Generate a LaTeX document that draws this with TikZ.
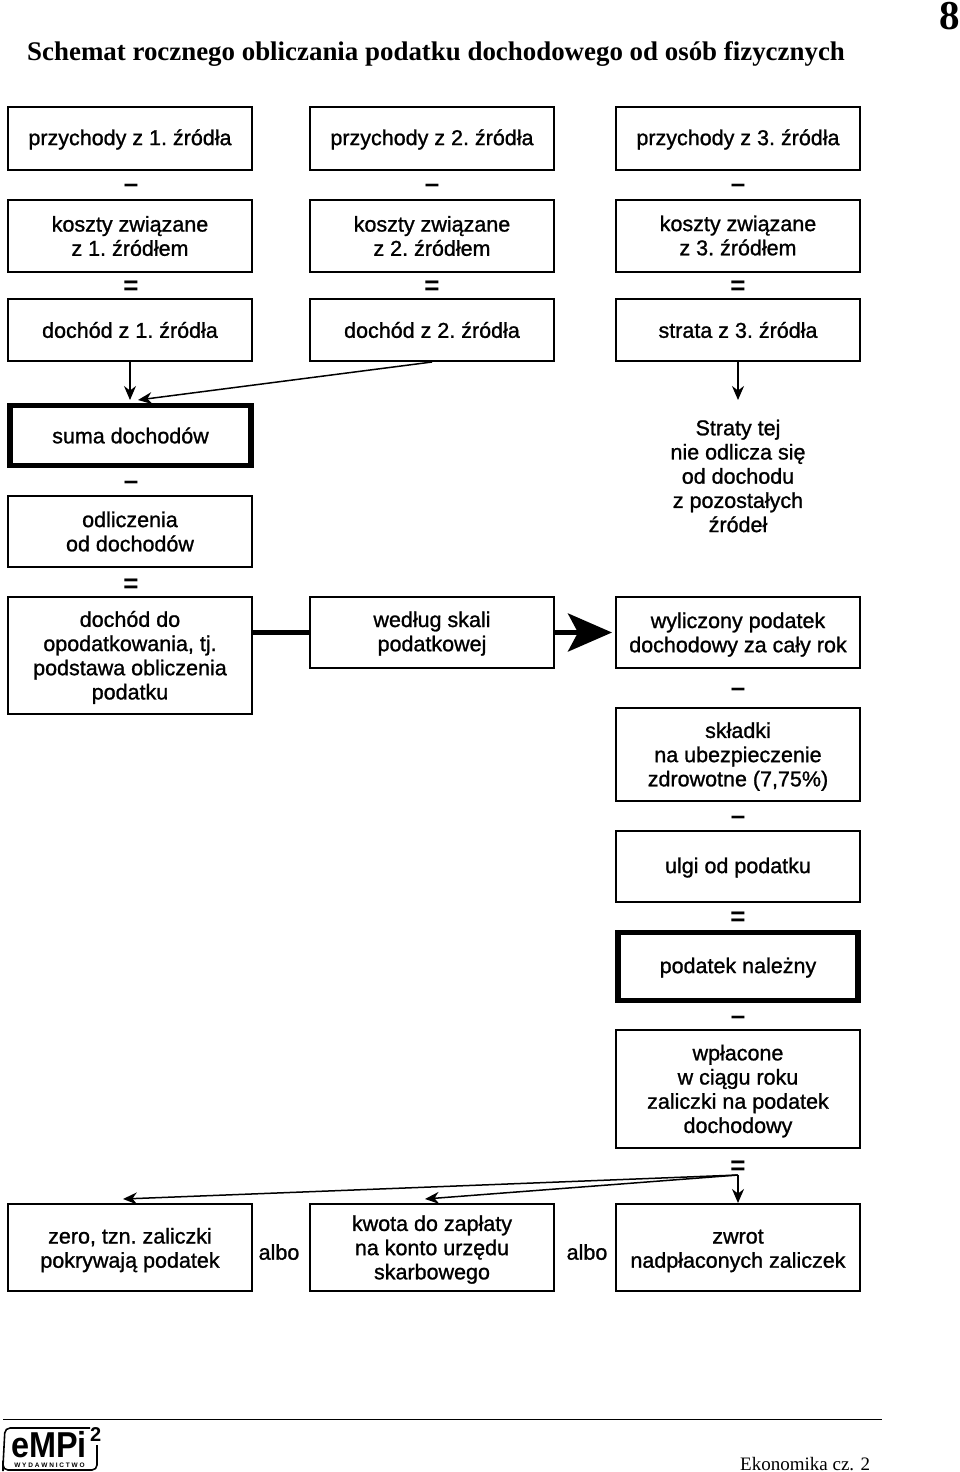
\documentclass[tikz,border=0pt]{standalone}
\usepackage{fontspec}
\setmainfont{Liberation Serif}
\newfontfamily\lab[FakeBold=1.1]{Liberation Sans}
\newfontfamily\labb{Liberation Sans Bold}
\newfontfamily\logof[FakeStretch=0.9]{Liberation Sans Bold}
\usetikzlibrary{arrows.meta}
\newcommand\lowr[1]{\rule{0pt}{\dimexpr 15.7pt+2\dimexpr #1pt\relax\relax}}
\tikzset{
 box/.style={draw=black,line width=2pt,fill=white,align=center,minimum width=244pt,inner sep=0pt,font=\lab\frenchspacing\fontsize{21.5}{24.2}\selectfont},
 heavybox/.style={box,line width=5.5pt},
 sign/.style={inner sep=0pt,font=\labb\fontsize{26}{26}\selectfont},
 dashsign/.style={sign,yshift=-3pt},
 eqsign/.style={sign,yshift=-2pt},
 plain/.style={inner sep=0pt,align=center,font=\lab\frenchspacing\fontsize{21.5}{24.2}\selectfont},
 conn/.style={draw=black,line width=1.5pt,-{Stealth[length=14pt,width=12pt]}},
}
\begin{document}
\begin{tikzpicture}[x=1pt,y=-1pt]
\useasboundingbox (0,0) rectangle (960,1472);
\fill[white] (0,0) rectangle (960,1472);
\node[anchor=base west,inner sep=0pt,font=\fontsize{26.9}{28}\selectfont\bfseries] (title) at (27,60) {Schemat rocznego obliczania podatku dochodowego od osób fizycznych};
\node[anchor=base,inner sep=0pt,font=\fontsize{41}{41}\selectfont\bfseries] (page) at (950,30) {8};
% column 1
\node[box,minimum height=63pt] (p1) at (130,138.5) {\lowr{1}przychody z 1. źródła};
\node[dashsign] (s1) at (131,185) {–};
\node[box,minimum height=72pt] (k1) at (130,236) {koszty związane\\z 1. źródłem};
\node[eqsign] (e1) at (131,286) {=};
\node[box,minimum height=62pt] (d1) at (130,330) {dochód z 1. źródła};
% column 2
\node[box,minimum height=63pt] (p2) at (432,138.5) {\lowr{1}przychody z 2. źródła};
\node[dashsign] (s2) at (432,185) {–};
\node[box,minimum height=72pt] (k2) at (432,236) {koszty związane\\z 2. źródłem};
\node[eqsign] (e2) at (432,286) {=};
\node[box,minimum height=62pt] (d2) at (432,330) {dochód z 2. źródła};
% column 3
\node[box,minimum height=63pt] (p3) at (738,138.5) {\lowr{1}przychody z 3. źródła};
\node[dashsign] (s3) at (738,185) {–};
\node[box,minimum height=72pt] (k3) at (738,235.5) {koszty związane\\z 3. źródłem};
\node[eqsign] (e3) at (738,286) {=};
\node[box,minimum height=62pt] (d3) at (738,330) {strata z 3. źródła};
% middle left
\node[heavybox,minimum height=60pt,minimum width=241pt] (suma) at (130.5,435.5) {suma dochodów};
\node[dashsign] (s4) at (131,482) {–};
\node[box,minimum height=71pt] (odl) at (130,531.5) {odliczenia\\od dochodów};
\node[eqsign] (e4) at (131,584) {=};
\node[box,minimum height=117pt] (pod) at (130,655.5) {\lowr{2}dochód do\\opodatkowania, tj.\\podstawa obliczenia\\podatku};
\node[box,minimum height=71pt] (skala) at (432,632.5) {\lowr{1}według skali\\podatkowej};
% right
\node[plain] (straty) at (738,476) {Straty tej\\nie odlicza się\\od dochodu\\z pozostałych\\źródeł};
\node[box,minimum height=71pt] (wyl) at (738,632.5) {\lowr{2}wyliczony podatek\\dochodowy za cały rok};
\node[dashsign] (s5) at (738,689) {–};
\node[box,minimum height=93pt] (skl) at (738,754.5) {\lowr{2}składki\\na ubezpieczenie\\zdrowotne (7,75\%)};
\node[dashsign] (s6) at (738,817) {–};
\node[box,minimum height=71pt] (ulgi) at (738,866.5) {\lowr{1}ulgi od podatku};
\node[eqsign] (e6) at (738,917) {=};
\node[heavybox,minimum height=68pt,minimum width=240pt] (nal) at (738,966.5) {\lowr{1}podatek należny};
\node[dashsign] (s7) at (738,1017) {–};
\node[box,minimum height=118pt] (wpl) at (738,1089) {\lowr{2}wpłacone\\w ciągu roku\\zaliczki na podatek\\dochodowy};
\node[eqsign] (e7) at (738,1166) {=};
% bottom
\node[box,minimum height=87pt] (zero) at (130,1247.5) {\lowr{2.5}zero, tzn. zaliczki\\pokrywają podatek};
\node[plain] (a1) at (279,1252) {albo};
\node[box,minimum height=87pt] (kwota) at (432,1247.5) {\lowr{2}kwota do zapłaty\\na konto urzędu\\skarbowego};
\node[plain] (a2) at (587,1252) {albo};
\node[box,minimum height=87pt] (zwrot) at (738,1247.5) {\lowr{2.5}zwrot\\nadpłaconych zaliczek};
% connectors
\coordinate (t1) at (130,400);
\coordinate (t2) at (138,400);
\coordinate (t3) at (738,400);
\coordinate (f) at (738,1175);
\coordinate (t4) at (123,1199);
\coordinate (t5) at (425,1199);
\draw[conn] (d1.south) -- (t1);
\draw[conn] (d2.south) -- (t2);
\draw[conn] (d3.south) -- (t3);
\draw[conn,-,line width=5pt] (pod.east |- skala.west) -- (skala.west);
\draw[draw=black,line width=5pt,shorten >=3pt,-{Stealth[length=44pt,width=38pt,inset=10pt]}] (skala.east) -- (wyl.west);
\draw[conn] (f) -- (zwrot.north);
\draw[conn] (f) -- (t4);
\draw[conn] (f) -- (t5);
% footer
\coordinate (rl) at (3,1419.5);
\coordinate (rr) at (882,1419.5);
\draw[line width=1.6pt] (rl) -- (rr);
\draw[line width=1.6pt,rounded corners=5pt] (90,1428) -- (5,1428) -- (3,1466) -- (3,1470) -- (97,1470) -- (97,1445);
\node[anchor=base west,inner sep=0pt,font=\fontsize{36}{36}\selectfont\logof] (logo) at (11,1457) {eMPi};
\node[anchor=base west,inner sep=0pt,font=\fontsize{20}{20}\selectfont\labb] (logo2) at (90,1441) {2};
\node[anchor=base,inner sep=0pt,font=\fontsize{6.5}{7}\selectfont\labb] (logo3) at (49.5,1467.5) {W Y D A W N I C T W O};
\node[anchor=base west,inner sep=0pt,font=\fontsize{19}{20}\selectfont] (foot) at (740,1470.5) {Ekonomika cz. 2};
\end{tikzpicture}
\end{document}
